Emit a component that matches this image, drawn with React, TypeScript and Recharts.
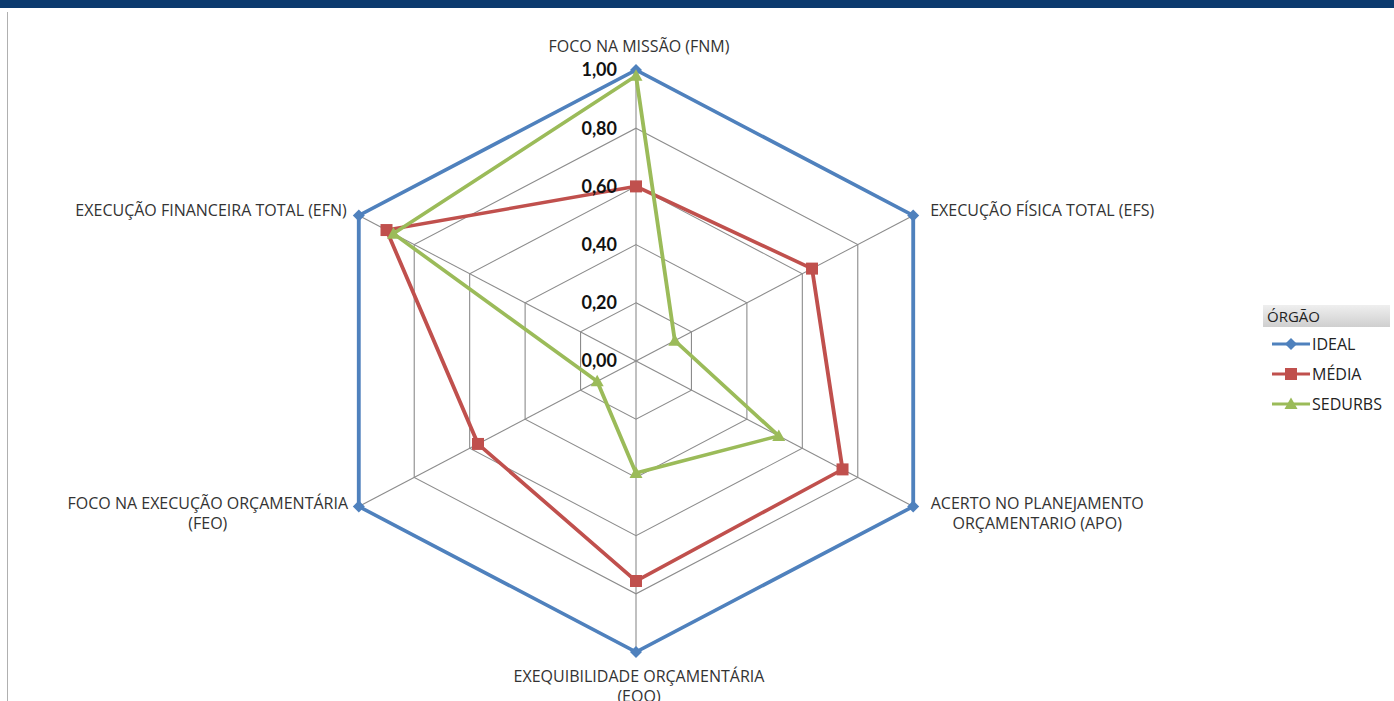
import React from "react";
import { RadarChart, Radar, PolarGrid, PolarAngleAxis, PolarRadiusAxis } from "recharts";

const categories = [
  "FOCO NA MISSÃO (FNM)",
  "EXECUÇÃO FÍSICA TOTAL (EFS)",
  "ACERTO NO PLANEJAMENTO\nORÇAMENTARIO (APO)",
  "EXEQUIBILIDADE ORÇAMENTÁRIA\n(EQO)",
  "FOCO NA EXECUÇÃO ORÇAMENTÁRIA\n(FEO)",
  "EXECUÇÃO FINANCEIRA TOTAL (EFN)",
];
const ideal = [1, 1, 1, 1, 1, 1];
const media = [0.6, 0.635, 0.745, 0.756, 0.57, 0.9];
const sedurbs = [0.98, 0.14, 0.515, 0.385, 0.14, 0.875];
const radiusTicks = [0, 0.2, 0.4, 0.6, 0.8, 1];

const series = [
  { key: "IDEAL", name: "IDEAL", color: "#4F81BD", marker: "diamond" },
  { key: "MEDIA", name: "MÉDIA", color: "#C0504D", marker: "square" },
  { key: "SEDURBS", name: "SEDURBS", color: "#9BBB59", marker: "triangle" },
];

const data = categories.map((c, i) => ({
  subject: c,
  IDEAL: ideal[i],
  MEDIA: media[i],
  SEDURBS: sedurbs[i],
}));

// Excel stretched the radar horizontally a bit
const SX = 1.1;
const CX = 636;
const CY = 361;
const R = 291;
const FONT = "'Open Sans', 'Noto Sans', sans-serif";
const NUM_FONT = "Lato, 'Noto Sans', sans-serif";

function markerPath(kind: string) {
  if (kind === "diamond") return "M0,-6 L6,0 L0,6 L-6,0 Z";
  if (kind === "square") return "M-6,-6 L6,-6 L6,6 L-6,6 Z";
  return "M0,-6.5 L6.5,5 L-6.5,5 Z";
}

const makeDot = (color: string, kind: string) => (p: any) => (
  <g key={`${kind}-${p.index}-${p.cx}`} transform={`translate(${p.cx},${p.cy}) scale(${1 / SX},1)`}>
    <path d={markerPath(kind)} fill={color} />
  </g>
);

const RadiusTick = (props: any) => {
  const { x, y, payload } = props;
  return (
    <g transform={`translate(${x},${y}) scale(${1 / SX},1)`}>
      <text
        x={-19}
        y={0}
        dy="0.36em"
        textAnchor="end"
        fontFamily={NUM_FONT}
        fontWeight="bold"
        fontSize={18}
        fill="#111"
      >
        {Number(payload.value).toFixed(2).replace(".", ",")}
      </text>
    </g>
  );
};

const AngleTick = (props: any) => {
  const { payload } = props;
  const a = (payload.coordinate * Math.PI) / 180;
  const vx = CX + R * Math.cos(a);
  const vy = CY - R * Math.sin(a);
  const lines = String(payload.value).split("\n");
  const c = Math.cos(a);
  const s = Math.sin(a);
  let anchor: "start" | "middle" | "end" = "middle";
  let dx = 3;
  let dy = 0;
  if (Math.abs(c) < 0.1) {
    dy = s > 0 ? -24 : 24;
  } else if (lines.length > 1) {
    dx = c > 0 ? 124 : -151;
    dy = -3.5;
  } else {
    anchor = c > 0 ? "start" : "end";
    dx = c > 0 ? 17 : -12;
    dy = -5;
  }
  return (
    <g transform={`translate(${vx},${vy}) scale(${1 / SX},1)`}>
      <text textAnchor={anchor} fontFamily={FONT} fontSize={16} fill="#333">
        {lines.map((l, i) => (
          <tspan key={i} x={dx} y={dy + i * 20} dy="0.35em">
            {l}
          </tspan>
        ))}
      </text>
    </g>
  );
};

function Legend() {
  return (
    <div style={{ position: "absolute", left: 1263, top: 305, fontFamily: FONT }}>
      <div
        style={{
          width: 127,
          height: 22,
          background: "linear-gradient(#efefef, #cfcfcf)",
          fontSize: 15,
          lineHeight: "22px",
          paddingLeft: 4,
          boxSizing: "border-box",
          color: "#222",
        }}
      >
        ÓRGÃO
      </div>
      {series.map((s, i) => (
        <div
          key={s.key}
          style={{ position: "absolute", left: 8, top: 28 + i * 30, display: "flex", alignItems: "center" }}
        >
          <svg width={40} height={16}>
            <line x1={1} y1={8} x2={39} y2={8} stroke={s.color} strokeWidth={3} />
            <g transform="translate(20,8)">
              <path d={markerPath(s.marker)} fill={s.color} />
            </g>
          </svg>
          <span style={{ fontSize: 16, color: "#222", marginLeft: 1 }}>{s.name}</span>
        </div>
      ))}
    </div>
  );
}

export default function App() {
  return (
    <div style={{ position: "absolute", left: 0, top: 0, width: 1394, height: 701, background: "#fff", overflow: "hidden" }}>
      <div style={{ position: "absolute", left: 0, top: 0, width: 1394, height: 8, background: "#0B3A6E" }} />
      <div style={{ position: "absolute", left: 7, top: 12, width: 1, height: 689, background: "#b0b0b0" }} />
      <div
        style={{
          position: "absolute",
          left: 0,
          top: 0,
          width: 1394,
          height: 701,
          transform: `scaleX(${SX})`,
          transformOrigin: `${CX}px ${CY}px`,
        }}
      >
        <RadarChart width={1394} height={701} cx={CX} cy={CY} outerRadius={R} data={data}>
          <PolarGrid gridType="polygon" stroke="#8c8c8c" strokeWidth={1} />
          <PolarAngleAxis dataKey="subject" tick={AngleTick} axisLine={false} tickLine={false} />
          <PolarRadiusAxis
            angle={90}
            domain={[0, 1]}
            ticks={radiusTicks as any}
            tick={RadiusTick}
            axisLine={false}
            tickLine={false}
          />
          {series.map((s) => (
            <Radar
              key={s.key}
              name={s.name}
              dataKey={s.key}
              stroke={s.color}
              strokeWidth={3.5}
              fill="none"
              fillOpacity={0}
              dot={makeDot(s.color, s.marker)}
              isAnimationActive={false}
            />
          ))}
        </RadarChart>
      </div>
      <Legend />
    </div>
  );
}
